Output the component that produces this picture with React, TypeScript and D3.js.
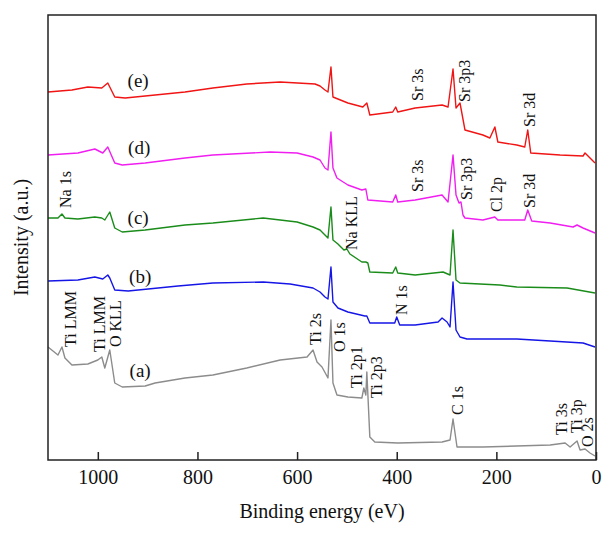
import { useEffect, useRef } from "react"
import * as d3 from "d3"

// Survey XPS spectra, binding energy (eV) vs intensity (a.u., stacked offsets)
const energyA = [1100, 1080, 1072, 1066, 1052, 1020, 1000, 992, 986, 976, 966, 951, 905, 885, 825, 769, 701, 634, 580, 568, 560, 550, 538, 532, 528, 520, 498, 470, 466, 462, 460, 454, 444, 398, 309, 293, 287, 279, 227, 92, 62, 52, 38, 32, 22, 12, 2]
const intensityA = [113, 105, 113, 102, 95, 96, 100, 103, 92, 110, 77, 73, 74, 77, 82, 85, 92, 100, 103, 110, 98, 93, 82, 140, 77, 65, 63, 62, 72, 65, 88, 23, 18, 17, 18, 20, 41, 13, 13, 15, 17, 13, 19, 10, 11, 7, 4]

const energyB = [1100, 1040, 1006, 990, 980, 976, 966, 939, 839, 769, 668, 614, 568, 554, 544, 538, 532, 528, 518, 498, 464, 460, 454, 404, 400, 394, 363, 317, 309, 299, 293, 287, 281, 273, 259, 159, 92, 26, 2]
const intensityB = [179, 180, 183, 181, 185, 182, 170, 169, 174, 177, 178, 176, 172, 168, 163, 161, 193, 158, 152, 148, 144, 144, 137, 137, 143, 135, 135, 138, 142, 138, 133, 178, 130, 123, 121, 121, 119, 117, 113]

const energyC = [1100, 1080, 1072, 1066, 1040, 1006, 992, 986, 976, 966, 951, 905, 825, 769, 668, 600, 568, 554, 544, 538, 532, 528, 518, 506, 500, 494, 470, 462, 458, 454, 408, 402, 398, 363, 307, 293, 287, 281, 273, 193, 159, 58, 2]
const intensityC = [242, 242, 246, 242, 241, 243, 242, 240, 248, 232, 228, 230, 235, 237, 242, 238, 233, 230, 225, 222, 253, 220, 216, 210, 211, 206, 198, 198, 197, 188, 187, 193, 187, 185, 188, 185, 230, 180, 177, 175, 173, 172, 167]

const energyD = [1100, 1040, 1006, 990, 980, 966, 951, 905, 825, 769, 654, 600, 568, 554, 544, 538, 532, 528, 520, 498, 470, 462, 458, 408, 402, 398, 363, 309, 297, 287, 281, 275, 271, 267, 263, 227, 203, 197, 143, 137, 129, 92, 46, 38, 26, 2]
const intensityD = [305, 307, 311, 307, 313, 297, 295, 297, 302, 305, 308, 307, 303, 300, 292, 290, 328, 292, 282, 275, 270, 271, 260, 258, 265, 258, 260, 265, 258, 305, 265, 257, 258, 245, 242, 240, 243, 240, 240, 250, 239, 237, 233, 235, 232, 227]

const energyE = [1100, 1052, 1020, 992, 980, 966, 945, 825, 769, 701, 634, 564, 554, 544, 538, 532, 528, 498, 468, 460, 454, 408, 402, 398, 363, 309, 297, 287, 281, 273, 263, 227, 213, 203, 197, 159, 143, 137, 131, 72, 26, 22, 16, 2]
const intensityE = [368, 370, 373, 372, 377, 363, 362, 368, 372, 376, 378, 376, 374, 370, 368, 393, 363, 357, 353, 357, 345, 348, 353, 348, 352, 355, 353, 391, 352, 357, 330, 325, 322, 333, 318, 315, 313, 330, 307, 305, 304, 307, 304, 297]

const sampleNames = ["(a)", "(b)", "(c)", "(d)", "(e)"]
const sampleColors = ["#8c8c8c", "#1515e6", "#1a8c1a", "#f01ef0", "#f01414"]
const sampleLabelEnergy = [915, 915, 919, 917, 919]
const sampleLabelIntensity = [83, 177, 236, 306, 373]

// peak assignments (rotated labels), anchored at the label's lower end
const peakLabels = ["Na 1s", "Ti LMM", "Ti LMM", "O KLL", "Ti 2s", "O 1s", "Ti 2p1", "Ti 2p3", "N 1s", "Na KLL", "Sr 3s", "Sr 3p3", "Sr 3d", "Sr 3s", "Sr 3p3", "Cl 2p", "Sr 3d", "C 1s", "Ti 3s", "Ti 3p", "O 2s"]
const peakEnergy = [1054, 1043, 986, 953, 552, 504, 469, 429, 379, 480, 347, 252, 122, 347, 248, 189, 122, 267, 58, 29, 7]
const peakIntensity = [252, 113, 108, 113, 115, 108, 72, 62, 145, 210, 359, 358, 333, 268, 260, 248, 252, 45, 25, 27, 13]

const xTicks = [1000, 800, 600, 400, 200, 0]

const FONT = '"Liberation Serif", "Times New Roman", serif'

export default function App() {
  const svgRef = useRef<SVGSVGElement>(null)

  useEffect(() => {
    if (!svgRef.current) return
    const svg = d3.select(svgRef.current)
    svg.selectAll("*").remove()

    const width = 614
    const height = 537
    const left = 48
    const right = 596
    const top = 15
    const bottom = 460

    svg.attr("width", width).attr("height", height)
    svg.append("rect").attr("width", width).attr("height", height).attr("fill", "white")

    const x = d3.scaleLinear().domain([1100, 0]).range([left, right])
    const y = d3.scaleLinear().domain([0, 445]).range([bottom, top])

    const series = [
      { e: energyA, i: intensityA },
      { e: energyB, i: intensityB },
      { e: energyC, i: intensityC },
      { e: energyD, i: intensityD },
      { e: energyE, i: intensityE },
    ]

    const line = d3
      .line<[number, number]>()
      .x((d) => x(d[0]))
      .y((d) => y(d[1]))

    series.forEach((s, k) => {
      const pts = s.e.map((e, j) => [e, s.i[j]] as [number, number])
      svg
        .append("path")
        .attr("d", line(pts))
        .attr("fill", "none")
        .attr("stroke", sampleColors[k])
        .attr("stroke-width", 1.4)
        .attr("stroke-linejoin", "round")
    })

    // sample labels
    sampleNames.forEach((name, k) => {
      svg
        .append("text")
        .attr("x", x(sampleLabelEnergy[k]))
        .attr("y", y(sampleLabelIntensity[k]))
        .attr("text-anchor", "middle")
        .style("font-family", FONT)
        .style("font-size", "19px")
        .style("fill", "#111")
        .text(name)
    })

    // peak labels
    peakLabels.forEach((lab, k) => {
      svg
        .append("text")
        .attr("transform", `translate(${x(peakEnergy[k])},${y(peakIntensity[k])}) rotate(-90)`)
        .style("font-family", FONT)
        .style("font-size", "16px")
        .style("fill", "#111")
        .text(lab)
    })

    // frame
    svg
      .append("rect")
      .attr("x", left)
      .attr("y", top)
      .attr("width", right - left)
      .attr("height", bottom - top)
      .attr("fill", "none")
      .attr("stroke", "#222")
      .attr("stroke-width", 1.5)

    const xAxis = svg
      .append("g")
      .attr("transform", `translate(0,${bottom})`)
      .call(d3.axisBottom(x).tickValues(xTicks).tickSize(-8).tickPadding(10).tickFormat(d3.format("d")))
    xAxis.select(".domain").remove()
    xAxis.selectAll(".tick line").attr("stroke", "#222").attr("stroke-width", 1.5)
    xAxis
      .selectAll(".tick text")
      .style("font-family", FONT)
      .style("font-size", "20px")
      .attr("fill", "#111")

    svg
      .append("text")
      .attr("x", (left + right) / 2)
      .attr("y", 518)
      .attr("text-anchor", "middle")
      .style("font-family", FONT)
      .style("font-size", "20px")
      .style("fill", "#111")
      .text("Binding energy (eV)")

    svg
      .append("text")
      .attr("transform", `translate(28,${(top + bottom) / 2}) rotate(-90)`)
      .attr("text-anchor", "middle")
      .style("font-family", FONT)
      .style("font-size", "20px")
      .style("fill", "#111")
      .text("Intensity (a.u.)")
  }, [])

  return (
    <svg ref={svgRef} style={{ position: "absolute", left: 0, top: 0, display: "block" }}></svg>
  )
}
